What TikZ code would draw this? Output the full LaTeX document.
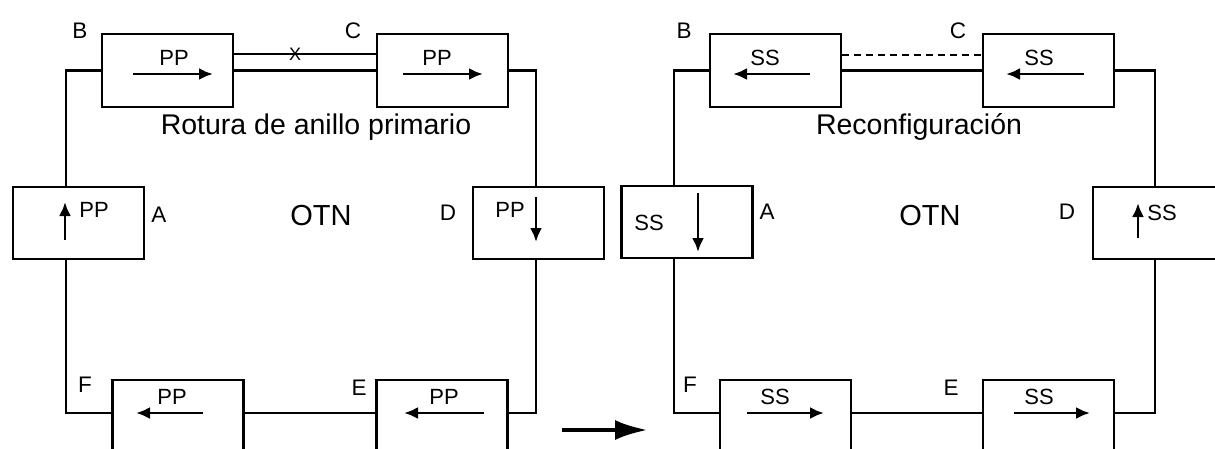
\documentclass[tikz,border=0pt]{standalone}
\usepackage{fontspec}
\setmainfont{Liberation Sans}
\usetikzlibrary{arrows.meta}
\tikzset{
  box/.style={draw, line width=2.8pt, minimum width=131pt, minimum height=73pt, inner sep=0pt},
  boxlow/.style={box, minimum height=100pt},
  ring/.style={line width=2.2pt},
  sig/.style={-{Latex[length=14pt,width=12pt]}, line width=2.8pt},
  go/.style={-{Latex[length=33pt,width=20pt]}, line width=4.5pt},
  lbl/.style={font=\fontsize{22.5}{25}\selectfont, inner sep=0pt},
  tag/.style={font=\fontsize{22}{24}\selectfont, inner sep=0pt},
  heading/.style={font=\fontsize{28.5}{32}\selectfont, inner sep=0pt},
}

\begin{document}
\begin{tikzpicture}[x=1pt, y=-1pt]
  \useasboundingbox (0,0) rectangle (1215,448);
  % left ring: primary ring broken between B and C
  \node[box] (lB) at (167.5,70.5) {};
  \node[box] (lC) at (442.5,70.5) {};
  \node[box, minimum height=72pt] (lA) at (78.5,223) {};
  \node[box, minimum height=72pt] (lD) at (538.5,223) {};
  \node[boxlow] (lF) at (178,430) {};
  \node[boxlow] (lE) at (442,430) {};
  \coordinate (lc1) at (66,413);
  \coordinate (lc2) at (536,413);
  \node[lbl] (lBl) at (80,31) {B};
  \node[lbl] (lCl) at (353,31) {C};
  \node[lbl] (lAl) at (159,215) {A};
  \node[lbl] (lDl) at (448,213) {D};
  \node[lbl] (lFl) at (85,385) {F};
  \node[lbl] (lEl) at (359,388) {E};
  \node[tag] (lBt) at (174,58) {PP};
  \node[tag] (lCt) at (437,58) {PP};
  \node[tag] (lAt) at (94,210) {PP};
  \node[tag] (lDt) at (510,210) {PP};
  \node[tag] (lFt) at (172,397) {PP};
  \node[tag] (lEt) at (444,397) {PP};
  \draw[sig] ([shift={(-34.5,3.5)}]lB.center) -- ++(80,0);
  \draw[sig] ([shift={(-39.5,3.5)}]lC.center) -- ++(80,0);
  \draw[sig] ([shift={(-13.5,17)}]lA.center) -- ++(0,-38);
  \draw[sig] ([shift={(-2.5,-26)}]lD.center) -- ++(0,45);
  \draw[sig] ([shift={(25,-17)}]lF.center) -- ++(-67,0);
  \draw[sig] ([shift={(42,-17)}]lE.center) -- ++(-80,0);
  \draw[ring] (lB.west) -| ([xshift=-12.5pt]lA.north);
  \draw[ring] ([xshift=-12.5pt]lA.south) -- (lc1) -- (lF.west |- lc1);
  \draw[ring] (lF.east |- lc1) -- (lE.west |- lc1);
  \draw[ring] (lE.east |- lc1) -- (lc2) -- ([xshift=-2.5pt]lD.south);
  \draw[ring] ([xshift=-2.5pt]lD.north) |- (lC.east);
  \draw[ring] ([yshift=16.5pt]lB.east) -- node[pos=0.43, font=\fontsize{18}{19}\selectfont, inner sep=0pt] (cut) {X} ([yshift=16.5pt]lC.west);
  \draw[ring] (lB.east) -- (lC.west);
  \node[heading] (lnote) at (316,127) {Rotura de anillo primario};
  \node[heading, font=\fontsize{29}{32}\selectfont] (lotn) at (321,216) {OTN};

  \coordinate (m1) at (562,430);
  \coordinate (m2) at (648,430);
  \draw[go] (m1) -- (m2);

  % right ring: traffic rerouted on the secondary ring
  \node[box] (rB) at (775.5,70.5) {};
  \node[box] (rC) at (1048.5,70.5) {};
  \node[box, minimum height=72pt] (rA) at (687,222) {};
  \node[box, minimum height=72pt] (rD) at (1158.5,223) {};
  \node[boxlow] (rF) at (785.5,430) {};
  \node[boxlow] (rE) at (1048.5,430) {};
  \coordinate (rc1) at (674,413);
  \coordinate (rc2) at (1155,413);
  \node[lbl] (rBl) at (684,31) {B};
  \node[lbl] (rCl) at (958,31) {C};
  \node[lbl] (rAl) at (767,212) {A};
  \node[lbl] (rDl) at (1067,212) {D};
  \node[lbl] (rFl) at (690,385) {F};
  \node[lbl] (rEl) at (951,388) {E};
  \node[tag] (rBt) at (765,58) {SS};
  \node[tag] (rCt) at (1039,58) {SS};
  \node[tag] (rAt) at (649,223) {SS};
  \node[tag] (rDt) at (1162,213) {SS};
  \node[tag] (rFt) at (775,397) {SS};
  \node[tag] (rEt) at (1039,397) {SS};
  \draw[sig] ([shift={(34.5,3.5)}]rB.center) -- ++(-77,0);
  \draw[sig] ([shift={(35.5,3.5)}]rC.center) -- ++(-78,0);
  \draw[sig] ([shift={(11,-29)}]rA.center) -- ++(0,59);
  \draw[sig] ([shift={(-20.5,15)}]rD.center) -- ++(0,-35);
  \draw[sig] ([shift={(-38.5,-17)}]rF.center) -- ++(77,0);
  \draw[sig] ([shift={(-34.5,-17)}]rE.center) -- ++(76,0);
  \draw[ring] (rB.west) -| ([xshift=-13pt]rA.north);
  \draw[ring] ([xshift=-13pt]rA.south) -- (rc1) -- (rF.west |- rc1);
  \draw[ring] (rF.east |- rc1) -- (rE.west |- rc1);
  \draw[ring] (rE.east |- rc1) -- (rc2) -- ([xshift=-3.5pt]rD.south);
  \draw[ring] ([xshift=-3.5pt]rD.north) |- (rC.east);
  \draw[ring, dashed, dash pattern=on 7pt off 5pt] ([yshift=15.5pt]rB.east) -- ([yshift=15.5pt]rC.west);
  \draw[ring] (rB.east) -- (rC.west);
  \node[heading] (rnote) at (919,127) {Reconfiguración};
  \node[heading, font=\fontsize{29}{32}\selectfont] (rotn) at (930,216) {OTN};
\end{tikzpicture}
\end{document}
